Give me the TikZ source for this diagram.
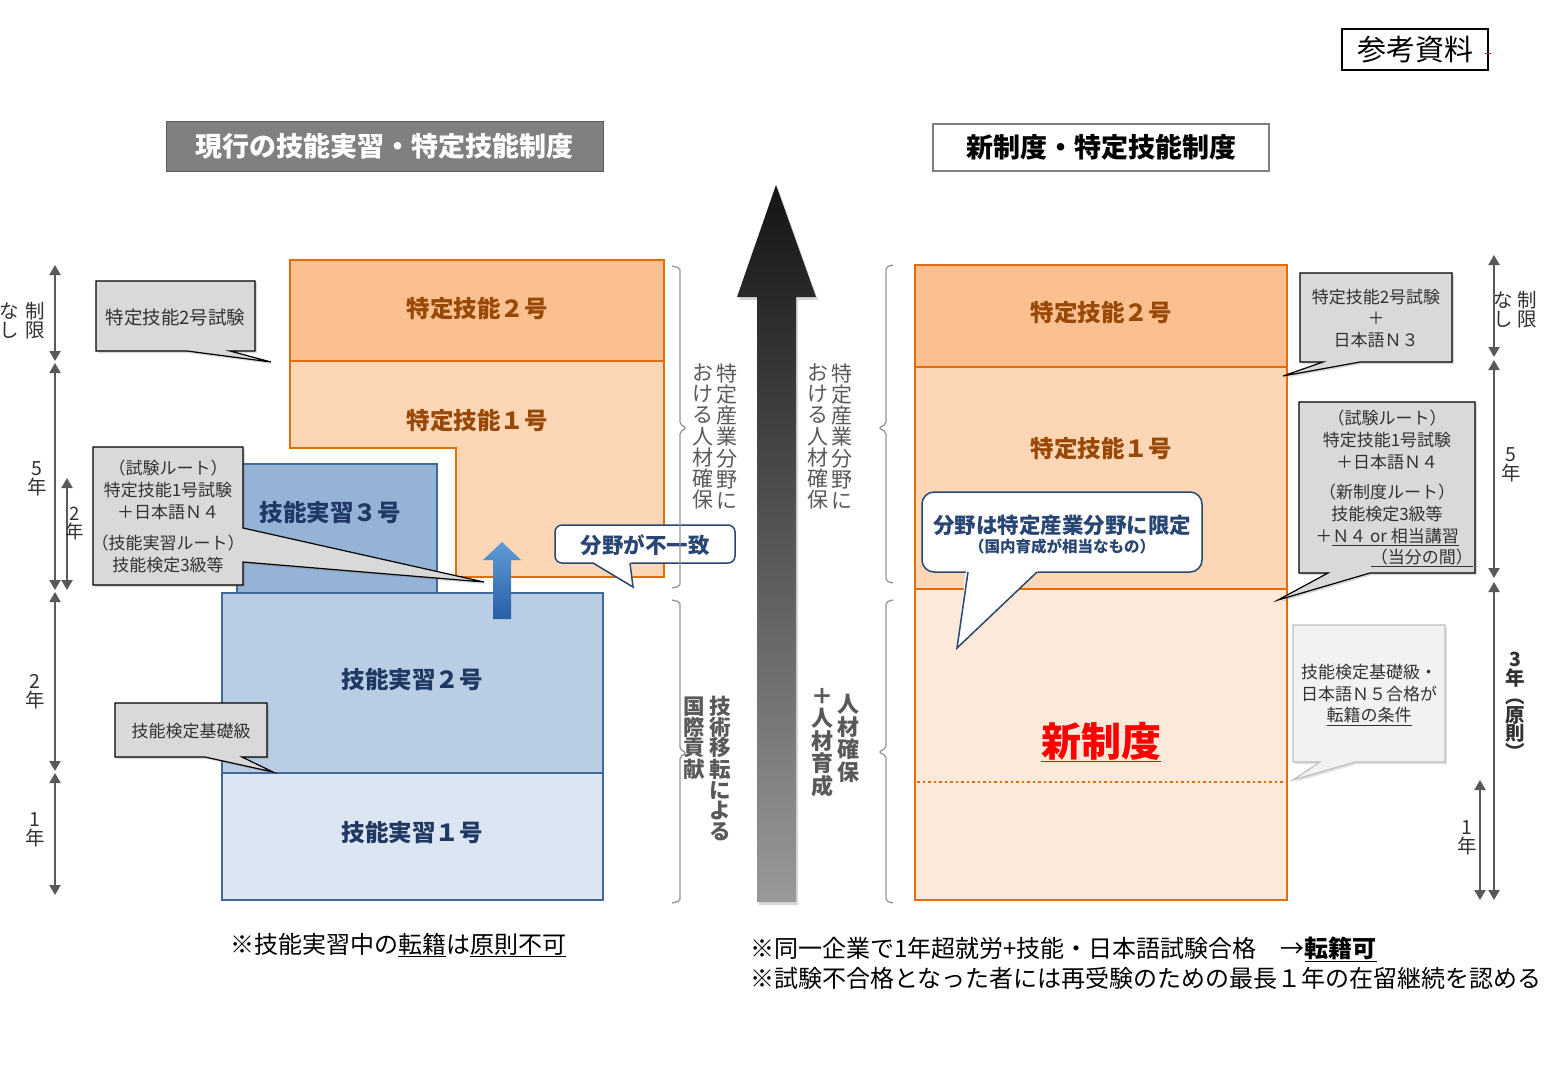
\documentclass[tikz,border=0pt]{standalone}
\usepackage{fontspec}
\setmainfont{Noto Sans CJK JP}
\usetikzlibrary{arrows.meta,shadows}
\definecolor{or2}{RGB}{250,192,143}
\definecolor{or1}{RGB}{252,214,181}
\definecolor{or0}{RGB}{253,233,217}
\definecolor{orb}{RGB}{228,108,10}
\definecolor{ort}{RGB}{152,72,7}
\definecolor{bl3}{RGB}{149,179,215}
\definecolor{bl2}{RGB}{185,205,229}
\definecolor{bl1}{RGB}{220,230,242}
\definecolor{blb}{RGB}{65,105,155}
\definecolor{blt}{RGB}{32,56,100}
\definecolor{cg}{RGB}{217,217,217}
\definecolor{cg2}{RGB}{242,242,242}
\definecolor{cgb}{RGB}{191,191,191}
\definecolor{sc}{RGB}{89,89,89}
\definecolor{tx}{RGB}{50,50,50}
\definecolor{nav}{RGB}{40,70,115}
\definecolor{ttl}{RGB}{128,128,128}
\definecolor{brk}{RGB}{150,150,150}
\definecolor{arA}{RGB}{95,155,215}
\definecolor{arB}{RGB}{40,95,165}
\tikzset{
  obox/.style={draw=orb,line width=1.3pt},
  bbox/.style={draw=blb,line width=1.3pt},
  callg/.style={fill=cg,draw=black,line width=1.2pt,drop shadow={shadow xshift=2pt,shadow yshift=-2pt,opacity=0.3}},
  callw/.style={fill=cg2,draw=cgb,line width=1.2pt,drop shadow={shadow xshift=2pt,shadow yshift=-2pt,opacity=0.25}},
  htxt/.style={font=\bfseries\fontsize{23.5}{26}\selectfont,inner sep=0},
  ctxt/.style={font=\fontsize{17}{22}\selectfont,text=tx,align=center,inner sep=0},
  scal/.style={draw=sc,line width=2pt,{Triangle[width=11pt,length=10pt]}-{Triangle[width=11pt,length=10pt]}},
  slab/.style={font=\fontsize{19.5}{19}\selectfont,text=tx,align=center,inner sep=0},
  vtx/.style={align=center,inner sep=0,text=sc,font=\fontsize{21}{21.2}\selectfont},
  vtb/.style={align=center,inner sep=0,text=sc,font=\bfseries\fontsize{21.5}{20.5}\selectfont},
  brace/.style={draw=brk,line width=1.3pt,rounded corners=2pt},
  nvb/.style={draw=nav,line width=1.5pt},
  note/.style={font=\fontsize{24}{28}\selectfont,inner sep=0,text=black}
}
\begin{document}
\begin{tikzpicture}[x=1pt,y=-1pt]
\useasboundingbox (0,0) rectangle (1560,1080);
\fill[white] (0,0) rectangle (1560,1080);

% reference label
\node[draw=black,line width=1.5pt,minimum width=146pt,minimum height=41pt,inner sep=0,font=\fontsize{29}{32}\selectfont] (ref) at (1415,49.5) {参考資料};
\draw[red,line width=1pt] (1485,53) -- (1491,53);

% titles
\node[fill=ttl,draw=sc,line width=1pt,minimum width=437pt,minimum height=50pt,inner sep=0,text=white,font=\bfseries\fontsize{27}{30}\selectfont] (t1) at (384.5,146) {現行の技能実習・特定技能制度};
\node[fill=white,draw=ttl,line width=1.3pt,minimum width=336pt,minimum height=47pt,inner sep=0,text=black,font=\bfseries\fontsize{27}{30}\selectfont] (t2) at (1101,147.5) {新制度・特定技能制度};

% ---------- left structure ----------
\draw[obox,fill=or2] (290,260) rectangle (664,361);
\draw[obox,fill=or1] (290,361) -- (664,361) -- (664,577) -- (456,577) -- (456,448) -- (290,448) -- cycle;
\node[htxt,text=ort] (l2go) at (477,309) {特定技能２号};
\node[htxt,text=ort] (l1go) at (477,421) {特定技能１号};
\draw[bbox,fill=bl3] (237,464) rectangle (437,593);
\draw[bbox,fill=bl2] (222,593) rectangle (603,773);
\draw[bbox,fill=bl1] (222,773) rectangle (603,900);
\node[htxt,text=blt] (j3) at (330,513) {技能実習３号};
\node[htxt,text=blt] (j2) at (412,680) {技能実習２号};
\node[htxt,text=blt] (j1) at (412,833) {技能実習１号};

% blue up arrow
\shade[top color=arA,bottom color=arB] (493,619) -- (493,560) -- (483,560) -- (502,542) -- (521,560) -- (511,560) -- (511,619) -- cycle;

% callout: field mismatch
\draw[nvb,fill=white,rounded corners=7pt] (555,525) rectangle (735,563);
\fill[white] (592,561.5) -- (631,561.5) -- (633,587) -- cycle;
\draw[nvb] (593,563) -- (633,587) -- (630,563);
\node[font=\bfseries\fontsize{21.5}{24}\selectfont,text=nav,inner sep=0] (mis) at (645,545) {分野が不一致};

% left gray callouts
\draw[callg] (96,281) -- (255,281) -- (255,351) -- (230,351) -- (271,362) -- (187,351) -- (96,351) -- cycle;
\node[ctxt,font=\fontsize{18.5}{22}\selectfont] (lc1) at (175.5,317) {特定技能2号試験};
\draw[callg] (93,447) -- (243,447) -- (243,528) -- (484,582) -- (243,562) -- (243,585) -- (93,585) -- cycle;
\node[ctxt] (lc2a) at (168,490) {（試験ルート）\\特定技能1号試験\\＋日本語Ｎ４};
\node[ctxt] (lc2b) at (168,554) {（技能実習ルート）\\技能検定3級等};
\draw[callg] (115,703) -- (267,703) -- (267,757) -- (242,757) -- (273,772) -- (205,757) -- (115,757) -- cycle;
\node[ctxt] (lc3) at (191,731) {技能検定基礎級};

% left scale
\draw[scal] (55,265) -- (55,361);
\draw[scal] (55,363) -- (55,590);
\draw[scal] (55,592) -- (55,771);
\draw[scal] (55,773) -- (55,895);
\draw[scal] (67,478) -- (67,590);
\node[slab] (ls1) at (35,321) {制\\限};
\node[slab] (ls2) at (9,321) {な\\し};
\node[slab] (ls3) at (37,479) {5\\年};
\node[slab,font=\fontsize{18.5}{18}\selectfont] (ls4) at (75,524) {2\\年};
\node[slab] (ls5) at (35,692) {2\\年};
\node[slab] (ls6) at (35,830) {1\\年};

% brackets and vertical texts
\draw[brace] (672,266) -- (680,268) -- (680,424) -- (686,428) -- (680,432) -- (680,586) -- (672,588);
\draw[brace] (672,600) -- (680,602) -- (680,749) -- (686,753) -- (680,757) -- (680,901) -- (672,903);
\draw[brace] (893,265) -- (886,267) -- (886,424) -- (879,428) -- (886,432) -- (886,581) -- (893,583);
\draw[brace] (893,600) -- (886,602) -- (886,748) -- (879,752) -- (886,756) -- (886,901) -- (893,903);
\node[vtx] (v1a) at (727,436.5) {特\\定\\産\\業\\分\\野\\に};
\node[vtx] (v1b) at (703,436.5) {お\\け\\る\\人\\材\\確\\保};
\node[vtx] (v2a) at (842,436.5) {特\\定\\産\\業\\分\\野\\に};
\node[vtx] (v2b) at (818,436.5) {お\\け\\る\\人\\材\\確\\保};
\node[vtb] (v3a) at (720,768.5) {技\\術\\移\\転\\に\\よ\\る};
\node[vtb] (v3b) at (694,738) {国\\際\\貢\\献};
\node[vtb,font=\bfseries\fontsize{22}{22.5}\selectfont] (v4a) at (848,738.5) {人\\材\\確\\保};
\node[vtb,font=\bfseries\fontsize{22}{22.5}\selectfont] (v4b) at (822,742.5) {＋\\人\\材\\育\\成};

% big central arrow
\path[drop shadow={shadow xshift=2pt,shadow yshift=-3pt,opacity=0.3},top color=black!92,bottom color=black!40] (757,902) -- (757,297) -- (737,297) -- (776,185) -- (816,297) -- (796,297) -- (796,902) -- cycle;

% ---------- right structure ----------
\draw[obox,fill=or0] (915,589) rectangle (1287,900);
\draw[obox,fill=or1] (915,367) rectangle (1287,589);
\draw[obox,fill=or2] (915,265) rectangle (1287,367);
\draw[orb,line width=2.5pt,dash pattern=on 2.5pt off 3pt] (917,782) -- (1285,782);
\node[htxt,text=ort] (r2go) at (1101,313) {特定技能２号};
\node[htxt,text=ort] (r1go) at (1101,449) {特定技能１号};
\node[font=\bfseries\fontsize{40}{44}\selectfont,text=red,inner sep=0] (shin) at (1101,742) {\underline{新制度}};

% callout: limited fields
\draw[nvb,fill=white,rounded corners=12pt] (922,492) rectangle (1202,572);
\fill[white] (966,570.5) -- (1039,570.5) -- (957,648) -- cycle;
\draw[nvb] (968,572) -- (957,648) -- (1037,572);
\node[font=\bfseries\fontsize{21.5}{24}\selectfont,text=nav,inner sep=0] (lim1) at (1062,525) {分野は特定産業分野に限定};
\node[font=\bfseries\fontsize{15.5}{18}\selectfont,text=nav,inner sep=0] (lim2) at (1062,547) {（国内育成が相当なもの）};

% right callouts
\draw[callg] (1300,273) -- (1452,273) -- (1452,362) -- (1360,362) -- (1283,376) -- (1323,362) -- (1300,362) -- cycle;
\node[ctxt,font=\fontsize{17}{21.5}\selectfont] (rc1) at (1376,318.5) {特定技能2号試験\\＋\\日本語Ｎ３};
\draw[callg] (1299,402) -- (1475,402) -- (1475,573) -- (1370,573) -- (1278,600) -- (1328,573) -- (1299,573) -- cycle;
\node[ctxt] (rc2a) at (1387,440) {（試験ルート）\\特定技能1号試験\\＋日本語Ｎ４};
\node[ctxt] (rc2b) at (1387,515) {（新制度ルート）\\技能検定3級等\\＋\underline{Ｎ４ or 相当講習}};
\node[ctxt,anchor=east] (rc2c) at (1473,558) {\underline{（当分の間）}};
\draw[callw] (1293,625) -- (1445,625) -- (1445,762) -- (1355,762) -- (1293,780) -- (1320,762) -- (1293,762) -- cycle;
\node[ctxt,font=\fontsize{17}{21.5}\selectfont] (rc3) at (1369,695) {技能検定基礎級・\\日本語Ｎ５合格が\\\underline{転籍の条件}};

% right scale
\draw[scal] (1494,255) -- (1494,357);
\draw[scal] (1494,360) -- (1494,578);
\draw[scal] (1494,582) -- (1494,900);
\draw[scal] (1480,780) -- (1480,900);
\node[slab] (rs1) at (1527,310) {制\\限};
\node[slab] (rs2) at (1503,310) {な\\し};
\node[slab] (rs3) at (1511,465) {5\\年};
\node[slab,font=\bfseries\fontsize{19.5}{18.5}\selectfont] (rs4) at (1515,706) {3\\年\\︵\\原\\則\\︶};
\node[slab] (rs5) at (1467,838) {1\\年};

% notes
\node[note] (n1) at (398,945) {※技能実習中の\underline{転籍}は\underline{原則不可}};
\node[note,anchor=west] (n2) at (750,949) {※同一企業で1年超就労+技能・日本語試験合格　→\textbf{\underline{転籍可}}};
\node[note,anchor=west] (n3) at (750,978) {※試験不合格となった者には再受験のための最長１年の在留継続を認める};
\end{tikzpicture}
\end{document}
